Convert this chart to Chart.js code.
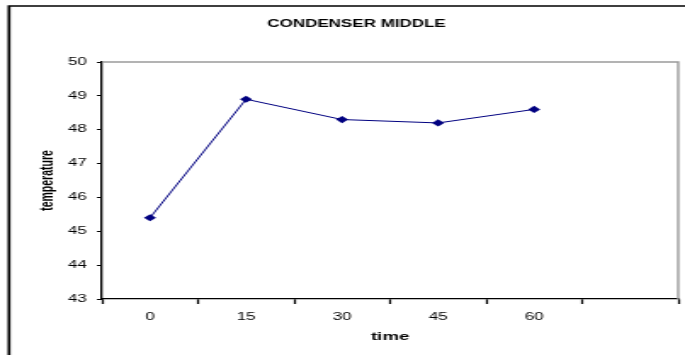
<!DOCTYPE html>
<html>
<head>
<meta charset="utf-8">
<script src="https://cdn.jsdelivr.net/npm/chart.js@4.4.1/dist/chart.umd.min.js"></script>
<style>
  html, body { margin: 0; padding: 0; background: #fff; overflow: hidden; }
  /* the reference is stretched sideways, so draw narrow and widen with css */
  #chart { display: block; width: 685px !important; height: 355px !important; }
</style>
</head>
<body>
<canvas id="chart" width="403" height="355"></canvas>
<script>
var timeLabels = ['0', '15', '30', '45', '60', ''];
var temperature = [45.4, 48.9, 48.3, 48.2, 48.6, null];
var yMin = 43;
var yMax = 50;

var frame = {
    id: 'frame',
    beforeDatasetsDraw: function(chart) {
        var ctx = chart.ctx;
        var a = chart.chartArea;
        ctx.save();
        // grey top and right edges of the plot
        ctx.strokeStyle = '#9a9a9a';
        ctx.lineWidth = 1.4;
        ctx.beginPath();
        ctx.moveTo(a.left, a.top);
        ctx.lineTo(a.right, a.top);
        ctx.lineTo(a.right, a.bottom);
        ctx.stroke();
        ctx.restore();
    },
    afterDraw: function(chart) {
        var ctx = chart.ctx;
        ctx.save();
        // outer chart box, only left and top show in the crop
        ctx.strokeStyle = '#000';
        ctx.lineWidth = 1.7;
        ctx.beginPath();
        ctx.moveTo(5.3, chart.height);
        ctx.lineTo(5.3, 6);
        ctx.lineTo(chart.width, 6);
        ctx.stroke();
        ctx.restore();
    }
};

var ctx = document.getElementById('chart').getContext('2d');
new Chart(ctx, {
    type: 'line',
    data: {
        labels: timeLabels,
        datasets: [{
            data: temperature,
            borderColor: '#000080',
            backgroundColor: '#000080',
            borderWidth: 1,
            pointStyle: 'rectRot',
            pointRadius: 3.6,
            pointBorderWidth: 0,
            tension: 0,
            spanGaps: false
        }]
    },
    options: {
        responsive: false,
        devicePixelRatio: 1,
        animation: false,
        layout: { padding: { left: 17, right: 0.5, top: 0, bottom: 0 } },
        plugins: {
            legend: { display: false },
            tooltip: { enabled: false },
            title: {
                display: true,
                text: 'CONDENSER MIDDLE',
                color: '#000',
                font: { family: 'Arial, "Liberation Sans", sans-serif', size: 10, weight: 'bold' },
                padding: { top: 18, bottom: 32 }
            }
        },
        scales: {
            x: {
                offset: true,
                grid: {
                    offset: true,
                    drawOnChartArea: false,
                    tickLength: 5,
                    tickColor: '#000',
                    tickWidth: 1.2
                },
                border: { color: '#000', width: 1.3 },
                ticks: {
                    color: '#000',
                    padding: 7,
                    maxRotation: 0,
                    font: { family: 'Arial, "Liberation Sans", sans-serif', size: 10 }
                },
                title: {
                    display: true,
                    text: 'time',
                    color: '#000',
                    font: { family: 'Arial, "Liberation Sans", sans-serif', size: 11, weight: 'bold' },
                    padding: { top: 0, bottom: 11 }
                },
                afterFit: function(scale) { scale.height = 56; }
            },
            y: {
                min: yMin,
                max: yMax,
                grid: {
                    drawOnChartArea: false,
                    tickLength: 3,
                    tickColor: '#000',
                    tickWidth: 1
                },
                border: { color: '#000', width: 1.3 },
                ticks: {
                    stepSize: 1,
                    color: '#000',
                    padding: 6,
                    font: { family: 'Arial, "Liberation Sans", sans-serif', size: 10 }
                },
                title: {
                    display: true,
                    text: 'temperature',
                    color: '#000',
                    font: { family: 'Arial, "Liberation Sans", sans-serif', size: 10.5, weight: 'bold' },
                    padding: { top: 5, bottom: 0 }
                },
                afterFit: function(scale) { scale.width = 43; }
            }
        }
    },
    plugins: [frame]
});
</script>
</body>
</html>
